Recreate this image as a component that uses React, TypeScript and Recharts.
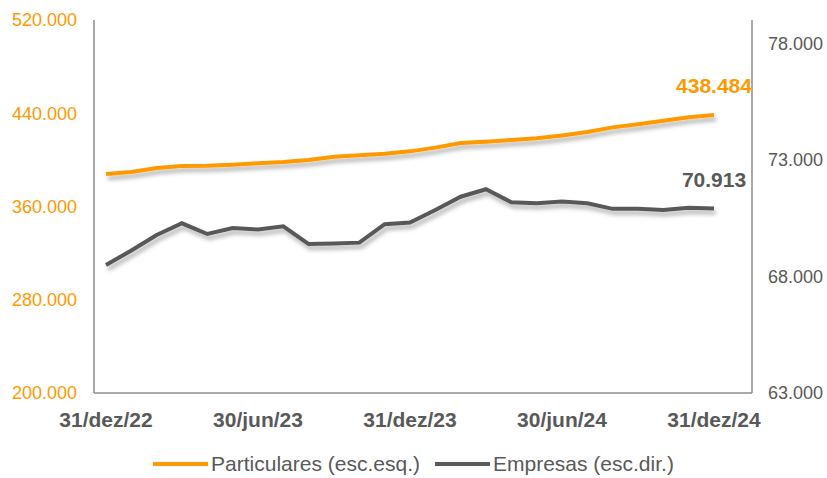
import { LineChart, Line, XAxis, YAxis, Legend, LabelList } from 'recharts';

const months = [
  '31/dez/22', '31/jan/23', '28/fev/23', '31/mar/23', '30/abr/23', '31/mai/23', '30/jun/23',
  '31/jul/23', '31/ago/23', '30/set/23', '31/out/23', '30/nov/23', '31/dez/23',
  '31/jan/24', '29/fev/24', '31/mar/24', '30/abr/24', '31/mai/24', '30/jun/24',
  '31/jul/24', '31/ago/24', '30/set/24', '31/out/24', '30/nov/24', '31/dez/24',
];

// left scale
const particulares = [
  387900, 389600, 393000, 394700, 395000, 395900, 397000, 398200, 399900, 402700, 403900, 405300, 407300,
  410500, 414500, 415600, 417000, 418500, 421000, 423900, 427900, 430600, 433600, 436500, 438484,
];

// right scale
const empresas = [
  68490, 69110, 69780, 70280, 69820, 70080, 70010, 70150, 69390, 69410, 69450, 70240, 70310,
  70850, 71420, 71740, 71180, 71140, 71210, 71140, 70900, 70900, 70850, 70950, 70913,
];

const xTicks = ['31/dez/22', '30/jun/23', '31/dez/23', '30/jun/24', '31/dez/24'];
const leftTicks = [200000, 280000, 360000, 440000, 520000];
const rightTicks = [63000, 68000, 73000, 78000];

const data = months.map((m, i) => ({ month: m, particulares: particulares[i], empresas: empresas[i] }));

const ORANGE = '#FF9900';
const GREY = '#595959';
const AXIS = '#8c8c8c';
const FONT = '"Liberation Sans", Arial, sans-serif';

const fmt = (v: number) => String(v).replace(/\B(?=(\d{3})+(?!\d))/g, '.');

const lastLabel = (color: string) => (props: any) => {
  const { x, y, value, index } = props;
  if (index !== data.length - 1) return null;
  return (
    <text x={x} y={y - 22} textAnchor="middle" fill={color} fontSize={21} fontWeight="bold" fontFamily={FONT}>
      {fmt(value)}
    </text>
  );
};

function LegendBox() {
  const item = (color: string, text: string, gap: number) => (
    <div style={{ display: 'flex', alignItems: 'center', marginRight: gap }}>
      <span style={{ display: 'inline-block', width: 55, height: 4, background: color, marginRight: 3 }} />
      <span style={{ color: GREY, fontSize: 21, lineHeight: '24px' }}>{text}</span>
    </div>
  );
  return (
    <div style={{ display: 'flex', justifyContent: 'center', fontFamily: FONT, paddingTop: 17, height: 45, boxSizing: 'border-box' }}>
      {item(ORANGE, 'Particulares (esc.esq.)', 15)}
      {item(GREY, 'Empresas (esc.dir.)', 0)}
    </div>
  );
}

export default function App() {
  return (
    <div style={{ position: 'absolute', left: 0, top: 0, width: 827, height: 478, background: '#fff' }}>
      <LineChart width={827} height={478} data={data} margin={{ top: 20, right: 0, left: 0, bottom: 0 }}>
        <defs>
          <filter id="shadow" x="-10%" y="-30%" width="120%" height="180%">
            <feDropShadow dx="2" dy="4" stdDeviation="2" floodColor="#000" floodOpacity="0.3" />
          </filter>
        </defs>
        <XAxis
          dataKey="month"
          ticks={xTicks}
          interval={0}
          padding={{ left: 12, right: 38 }}
          height={40}
          tickLine={false}
          tickSize={0}
          tickMargin={19}
          axisLine={{ stroke: AXIS, strokeWidth: 1.5 }}
          tick={{ fill: GREY, fontSize: 21, fontWeight: 'bold', fontFamily: FONT }}
        />
        <YAxis
          yAxisId="left"
          domain={[200000, 520000]}
          ticks={leftTicks}
          width={94}
          tickLine={false}
          tickSize={0}
          tickMargin={17}
          tickFormatter={fmt}
          axisLine={{ stroke: AXIS, strokeWidth: 1.5 }}
          tick={{ fill: ORANGE, fontSize: 18, fontFamily: FONT }}
        />
        <YAxis
          yAxisId="right"
          orientation="right"
          domain={[63000, 79000]}
          ticks={rightTicks}
          width={75}
          tickLine={false}
          tickSize={0}
          tickMargin={16}
          tickFormatter={fmt}
          axisLine={{ stroke: AXIS, strokeWidth: 1.5 }}
          tick={{ fill: GREY, fontSize: 18, fontFamily: FONT }}
        />
        <Legend verticalAlign="bottom" content={() => <LegendBox />} />
        <Line
          yAxisId="left"
          dataKey="particulares"
          name="Particulares (esc.esq.)"
          stroke={ORANGE}
          strokeWidth={4}
          dot={false}
          filter="url(#shadow)"
          isAnimationActive={false}
        >
          <LabelList dataKey="particulares" content={lastLabel(ORANGE)} />
        </Line>
        <Line
          yAxisId="right"
          dataKey="empresas"
          name="Empresas (esc.dir.)"
          stroke={GREY}
          strokeWidth={4}
          dot={false}
          filter="url(#shadow)"
          isAnimationActive={false}
        >
          <LabelList dataKey="empresas" content={lastLabel(GREY)} />
        </Line>
      </LineChart>
    </div>
  );
}
